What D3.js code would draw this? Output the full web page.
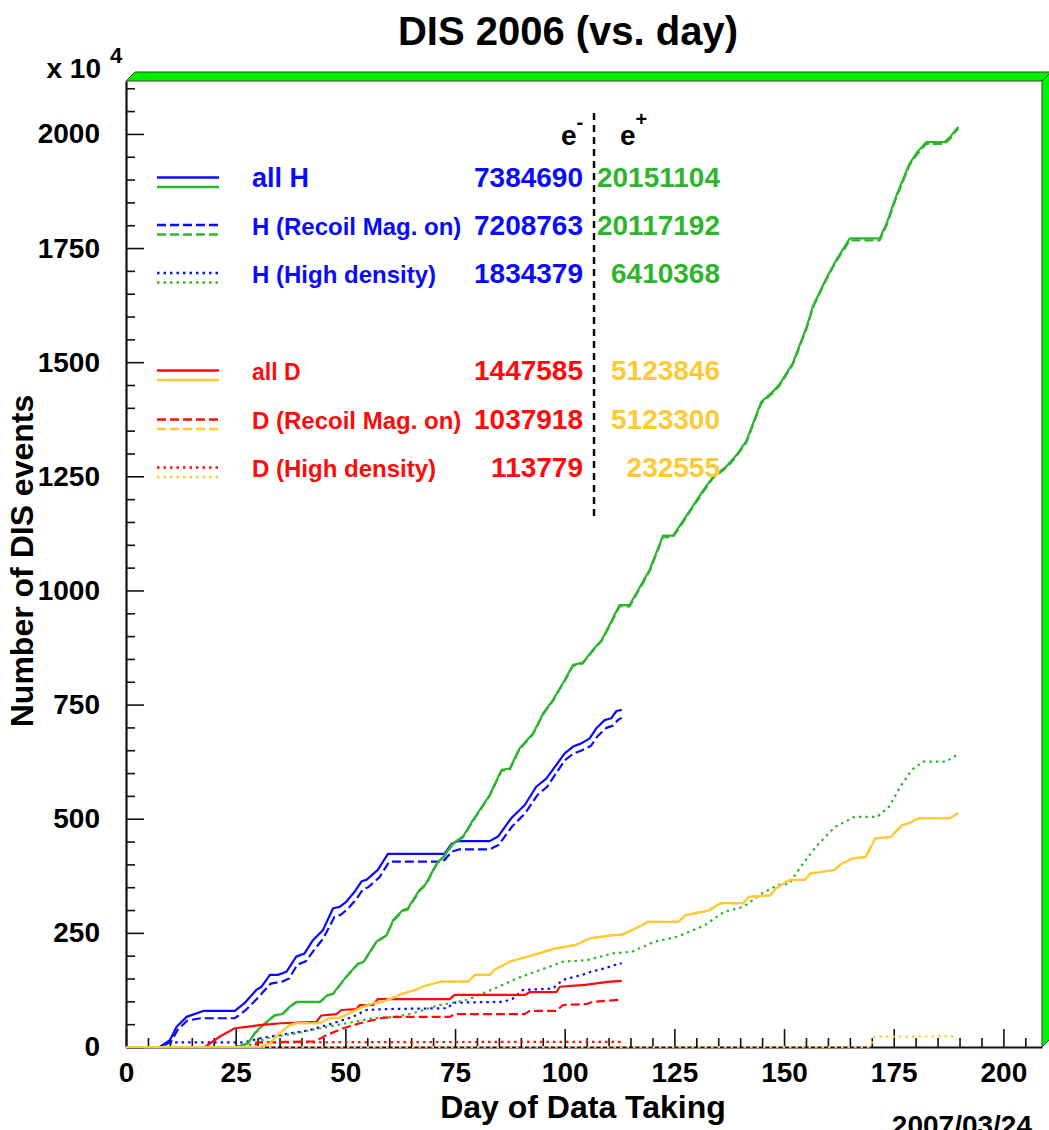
<!DOCTYPE html>
<html>
<head>
<meta charset="utf-8">
<script src="https://cdn.jsdelivr.net/npm/d3@7"></script>
<style>
  html, body { margin: 0; padding: 0; background: #fff; }
  svg { display: block; font-family: "Liberation Sans", Arial, Helvetica, sans-serif; font-weight: bold; }
</style>
</head>
<body>
<svg id="chart" width="1049" height="1130"></svg>
<script>
// ---- Cumulative DIS events (units of 10^4) vs day of data taking ----

// Hydrogen target, e- beam
const H_EM_ALL = [[0,0],[7.7,0],[10,15],[11.5,44],[13.8,66],[17.6,79],[24.8,79],[27,96],[29.7,125],[30.9,132],[32.8,158],[34.6,158],[36.6,165],[38.8,198],[40.7,205],[42.6,234],[44.9,256],[47.2,304],[48.7,307],[50.2,318],[52.1,340],[53.7,363],[54.8,366],[57.4,388],[59.7,423],[72.6,423],[74.2,445],[75.7,451],[82.9,451],[84.8,461],[87.8,501],[90.9,530],[93.5,570],[95.8,588],[100,643],[101.9,658],[103.8,665],[105.7,676],[107.2,698],[109.1,716],[110.6,720],[111.8,736],[113,738.469]];
const H_EM_RECOIL = [[0,0],[8,0],[10.3,12],[11.8,38],[14,58],[17,63],[24.8,63],[27.2,80],[29.8,105],[31.3,121],[33,139],[35.5,143],[37.2,150],[39,180],[41,188],[43,214],[45,238],[47.5,285],[49,290],[50.5,302],[52.5,324],[54,345],[55.2,350],[57.8,372],[60,406],[72.3,406],[74.3,428],[76,433],[82.9,433],[85,443],[88,483],[91,512],[93.8,552],[96,570],[100,628],[102,643],[104,650],[106,660],[107.5,681],[109.5,699],[111,704],[112.2,717],[113,720.8763]];
const H_EM_HIGHDENS = [[0,0],[9.8,0],[10.3,10],[26.8,10],[28.5,14],[30.5,19],[35,26],[41.9,37],[47.2,52],[51.7,66],[54.8,81],[58.6,83],[73.4,85],[74.5,97],[85.9,99],[88,105],[90.5,125],[97.3,128],[99.6,147],[104,158],[106,165],[109,172],[111.8,181],[113,183.4379]];

// Hydrogen target, e+ beam
const H_EP_ALL = [[0,0],[25.1,0],[27.8,8],[29.3,30],[31.2,48],[33.9,70],[35.6,72],[37.3,88],[38.8,99],[44.2,99],[46,114],[47.2,117],[50.2,154],[52.9,183],[54.1,186],[57.1,231],[59.4,245],[60.9,278],[63.1,300],[64.2,303],[66.9,344],[68.4,358],[70.8,402],[72.6,420],[74.5,446],[76.8,461],[79.1,497],[82.9,552],[85.6,607],[87.5,610],[89.7,654],[92.8,687],[95.1,731],[97.3,760],[100,804],[101.9,837],[104.1,842],[106.7,873],[108.4,891],[110.5,930],[112.5,968],[114.8,968],[119.4,1046],[122.4,1120],[124.7,1120],[127.7,1163],[131.5,1218],[133.8,1249],[136.9,1272],[139.1,1296],[141.4,1327],[144.8,1413],[147.5,1436],[149,1452],[152,1498],[155.1,1576],[156.6,1623],[159.7,1685],[161.9,1724],[165,1771],[171.8,1771],[173.3,1802],[175.6,1865],[178.6,1935],[180.2,1958],[182.4,1982],[186.6,1982],[187.8,1993],[189.7,2015.1104]];
const H_EP_RECOIL = [[0,0],[25.1,0],[27.8,8],[29.3,29],[31.2,47],[33.9,69],[35.6,71],[37.3,87],[38.8,98],[44.2,98],[46,113],[47.2,116],[50.2,153],[52.9,182],[54.1,185],[57.1,230],[59.4,244],[60.9,276],[63.1,298],[64.2,301],[66.9,342],[68.4,356],[70.8,400],[72.6,418],[74.5,444],[76.8,459],[79.1,495],[82.9,550],[85.6,605],[87.5,608],[89.7,652],[92.8,685],[95.1,729],[97.3,758],[100,802],[101.9,835],[104.1,840],[106.7,871],[108.4,889],[110.5,927],[112.5,965],[114.8,965],[119.4,1043],[122.4,1117],[124.7,1117],[127.7,1160],[131.5,1215],[133.8,1246],[136.9,1269],[139.1,1293],[141.4,1324],[144.8,1410],[147.5,1433],[149,1449],[152,1495],[155.1,1573],[156.6,1620],[159.7,1682],[161.9,1721],[165,1767],[171.8,1767],[173.3,1798],[175.6,1861],[178.6,1931],[180.2,1954],[182.4,1978],[186.6,1978],[187.8,1989],[189.7,2011.7192]];
const H_EP_HIGHDENS = [[0,0],[27,0],[32,19],[38.8,30],[44.2,41],[50.2,52],[56.3,63],[61.6,66],[65.4,74],[71.5,92],[75.3,98],[78,104],[84,128],[89,150],[94.5,169],[99.7,187],[105,190],[111,205],[115.4,209],[120.6,231],[125.9,242],[132,267],[136.3,296],[140.7,307],[145.1,337],[148.6,355],[151.2,358],[153.8,395],[157.3,439],[161.6,482],[166,504],[171.2,504],[173.9,526],[176.5,570],[179.1,607],[181.7,625],[186.9,625],[189.7,641.0368]];

// Deuterium target, e- beam
const D_EM_ALL = [[0,0],[18,0],[21.4,23],[24.8,41],[28,44.5],[30.5,48],[35.4,52],[43.4,55],[44.5,69],[48,72],[49.1,81],[52.5,83],[53.3,92],[56.3,92],[57.4,105],[73.8,105],[74.9,114],[90.9,114],[92,120],[98.1,120],[98.9,132],[104.6,136],[110.3,143],[113,144.7585]];
const D_EM_RECOIL = [[0,0],[29,0],[30,10],[43,12],[45.7,26],[49.5,41],[53.3,52],[58.6,64],[61,66],[73.8,66],[74.9,72],[90.9,72],[92,79],[98.1,79],[99.6,92],[105,94],[106.4,99],[113,103.7918]];
const D_EM_HIGHDENS = [[0,0],[29,0],[30,10],[60,10.8],[90,11.1],[113,11.3779]];

// Deuterium target, e+ beam
const D_EP_ALL = [[0,0],[30.5,0],[32.8,8],[35,30],[37.3,48],[38.8,52],[44.2,52],[46.4,63],[48.7,64],[51,74],[53.3,85],[56.3,96],[58.6,99],[63.1,117],[66.9,128],[67.4,132],[71.8,143],[77.9,143],[79.6,158],[82.9,158],[84,169],[87.5,187],[92.7,201],[97.9,216],[102.3,223],[105.8,238],[111,245],[113,246],[115.4,256],[118.9,274],[125.9,274],[127.6,289],[132.8,299],[135.5,315],[140.7,315],[142,329],[146.8,332],[148.1,347],[151.2,366],[154.7,366],[156,380],[161.6,388],[163,401],[165.6,413],[168.6,416],[170.8,457],[174.3,460],[176.9,486],[178.4,490],[180.8,501],[187.8,501],[189.7,512.3846]];
const D_EP_RECOIL = [[0,0],[30.5,0],[32.8,8],[35,30],[37.3,48],[38.8,52],[44.2,52],[46.4,63],[48.7,64],[51,74],[53.3,85],[56.3,96],[58.6,99],[63.1,117],[66.9,128],[67.4,132],[71.8,143],[77.9,143],[79.6,158],[82.9,158],[84,169],[87.5,187],[92.7,201],[97.9,216],[102.3,223],[105.8,238],[111,245],[113,246],[115.4,256],[118.9,274],[125.9,274],[127.6,289],[132.8,299],[135.5,315],[140.7,315],[142,329],[146.8,332],[148.1,347],[151.2,366],[154.7,366],[156,380],[161.6,388],[163,401],[165.6,413],[168.6,416],[170.8,457],[174.3,460],[176.9,486],[178.4,490],[180.8,501],[187.8,501],[189.7,512.33]];
const D_EP_HIGHDENS = [[0,0],[169.6,0],[170.5,22.6],[189.5,23.2555]];

// Legend rows and total event counts per beam charge
const LEGEND_LABELS = ["all H", "H (Recoil Mag. on)", "H (High density)", "all D", "D (Recoil Mag. on)", "D (High density)"];
const COUNTS_EM = [7384690, 7208763, 1834379, 1447585, 1037918, 113779];
const COUNTS_EP = [20151104, 20117192, 6410368, 5123846, 5123300, 232555];

// Axis ticks
const X_MAJOR = [0, 25, 50, 75, 100, 125, 150, 175, 200];
const Y_MAJOR = [0, 250, 500, 750, 1000, 1250, 1500, 1750, 2000];

const TITLE = "DIS 2006 (vs. day)";
const X_TITLE = "Day of Data Taking";
const Y_TITLE = "Number of DIS events";
const DATE_STAMP = "2007/03/24";

// ---- styling ----
const BLUE = "#0a0aff", GREEN = "#2eb52e", RED = "#ff0a0a", YELLOW = "#ffc935";
const DASH = { solid: null, dashed: "9,4", dotted: "2.5,4" };

const series = [
  { data: H_EM_ALL, color: BLUE, style: "solid" },
  { data: H_EM_RECOIL, color: BLUE, style: "dashed" },
  { data: H_EM_HIGHDENS, color: BLUE, style: "dotted" },
  { data: H_EP_ALL, color: GREEN, style: "solid" },
  { data: H_EP_RECOIL, color: GREEN, style: "dashed" },
  { data: H_EP_HIGHDENS, color: GREEN, style: "dotted" },
  { data: D_EM_ALL, color: RED, style: "solid" },
  { data: D_EM_RECOIL, color: RED, style: "dashed" },
  { data: D_EM_HIGHDENS, color: RED, style: "dotted" },
  { data: D_EP_ALL, color: YELLOW, style: "solid" },
  { data: D_EP_RECOIL, color: YELLOW, style: "dashed" },
  { data: D_EP_HIGHDENS, color: YELLOW, style: "dotted" }
];

// ---- frame geometry ----
const L = 126, R = 1042, T = 81, B = 1047, BORDER = 9;

const svg = d3.select("#chart");

const x = d3.scaleLinear().domain([0, 208.8]).range([L, R]);
const y = d3.scaleLinear().domain([0, 2115.9]).range([B, T]);

// 3D frame border (top and right bevelled bars)
const frame = svg.append("g");
frame.append("polygon")
  .attr("points", [[L, T], [L + BORDER, T - BORDER], [R + BORDER, T - BORDER], [R, T]].join(" "))
  .attr("fill", "#00f000").attr("stroke", "#1f4f1f").attr("stroke-width", 1);
frame.append("polygon")
  .attr("points", [[R, T], [R + BORDER, T - BORDER], [R + BORDER, B - BORDER], [R, B]].join(" "))
  .attr("fill", "#00f000").attr("stroke", "#1f4f1f").attr("stroke-width", 1);
frame.append("line")
  .attr("x1", L + BORDER).attr("x2", R + BORDER + 2).attr("y1", T - BORDER - 0.5).attr("y2", T - BORDER - 0.5)
  .attr("stroke", "#9a9a9a").attr("stroke-width", 1);

// ---- axes (ticks point into the frame) ----
const xMinor = d3.range(0, 206, 5).filter(v => v % 25 !== 0);
const yMinor = d3.range(0, 2101, 50).filter(v => v % 250 !== 0);

const gx = svg.append("g").attr("transform", `translate(0,${B})`);
gx.call(d3.axisBottom(x).tickValues(xMinor).tickSize(-9).tickSizeOuter(0).tickFormat(""));
gx.call(g => g.select(".domain").remove());
svg.append("g").attr("transform", `translate(0,${B})`)
  .call(d3.axisBottom(x).tickValues(X_MAJOR).tickSize(-18).tickSizeOuter(0).tickPadding(15).tickFormat(d3.format("d")));

const gy = svg.append("g").attr("transform", `translate(${L},0)`);
gy.call(d3.axisLeft(y).tickValues(yMinor).tickSize(-9).tickSizeOuter(0).tickFormat(""));
gy.call(g => g.select(".domain").remove());
svg.append("g").attr("transform", `translate(${L},0)`)
  .call(d3.axisLeft(y).tickValues(Y_MAJOR).tickSize(-18).tickSizeOuter(0).tickPadding(26).tickFormat(d3.format("d")));

svg.selectAll(".tick line").attr("stroke", "#111").attr("stroke-width", 1.6);
svg.selectAll(".domain").attr("stroke", "#111").attr("stroke-width", 2.2);
svg.selectAll(".tick text")
  .attr("font-family", "'Liberation Sans', Arial, sans-serif")
  .attr("font-weight", "bold").attr("font-size", 28).attr("fill", "#000");

// ---- curves ----
const line = d3.line().x(d => x(d[0])).y(d => y(d[1]));
svg.append("g").selectAll("path").data(series).join("path")
  .attr("d", s => line(s.data))
  .attr("fill", "none")
  .attr("stroke", s => s.color)
  .attr("stroke-width", 2.2)
  .attr("stroke-dasharray", s => DASH[s.style])
  .attr("stroke-linejoin", "round");

// ---- legend ----
const legendBase = [187, 234.5, 282.5, 380, 429, 477];
const legendSize = [27, 24, 24, 23, 24, 24];
const styles = ["solid", "dashed", "dotted", "solid", "dashed", "dotted"];
const lg = svg.append("g");
LEGEND_LABELS.forEach((lab, i) => {
  const isH = i < 3;
  const cEm = isH ? BLUE : RED, cEp = isH ? GREEN : YELLOW;
  const yb = legendBase[i];
  [[cEm, yb - 9.5], [cEp, yb]].forEach(([c, yy]) => {
    lg.append("line").attr("x1", 157).attr("x2", 219).attr("y1", yy).attr("y2", yy)
      .attr("stroke", c).attr("stroke-width", 2.6).attr("stroke-dasharray", DASH[styles[i]]);
  });
  lg.append("text").attr("x", 252).attr("y", yb).attr("font-size", legendSize[i]).attr("fill", cEm).text(lab);
  lg.append("text").attr("x", 583).attr("y", yb).attr("font-size", 28).attr("text-anchor", "end").attr("fill", cEm).text(COUNTS_EM[i]);
  lg.append("text").attr("x", 720).attr("y", yb).attr("font-size", 28).attr("text-anchor", "end").attr("fill", cEp).text(COUNTS_EP[i]);
});

// beam-charge column headers and separator
const eM = lg.append("text").attr("x", 561).attr("y", 145).attr("font-size", 28).attr("fill", "#000");
eM.append("tspan").text("e");
eM.append("tspan").attr("font-size", 20).attr("dy", -16).text("-");
const eP = lg.append("text").attr("x", 620).attr("y", 145).attr("font-size", 28).attr("fill", "#000");
eP.append("tspan").text("e");
eP.append("tspan").attr("font-size", 20).attr("dy", -19).text("+");
lg.append("line").attr("x1", 594).attr("x2", 594).attr("y1", 113).attr("y2", 516)
  .attr("stroke", "#000").attr("stroke-width", 2.4).attr("stroke-dasharray", "7,5");

// ---- titles ----
svg.append("text").attr("x", 568).attr("y", 45).attr("text-anchor", "middle")
  .attr("font-size", 40).attr("fill", "#000").text(TITLE);
svg.append("text").attr("x", 583).attr("y", 1118).attr("text-anchor", "middle")
  .attr("font-size", 32).attr("fill", "#000").text(X_TITLE);
svg.append("text").attr("transform", "translate(33,561) rotate(-90)").attr("text-anchor", "middle")
  .attr("font-size", 32).attr("fill", "#000").text(Y_TITLE);
svg.append("text").attr("x", 101).attr("y", 78).attr("text-anchor", "end")
  .attr("font-size", 28).attr("fill", "#000").text("x 10");
svg.append("text").attr("x", 110).attr("y", 63).attr("font-size", 22).attr("fill", "#000").text("4");
svg.append("text").attr("x", 1032).attr("y", 1135).attr("text-anchor", "end")
  .attr("font-size", 28).attr("fill", "#000").text(DATE_STAMP);
</script>
</body>
</html>
